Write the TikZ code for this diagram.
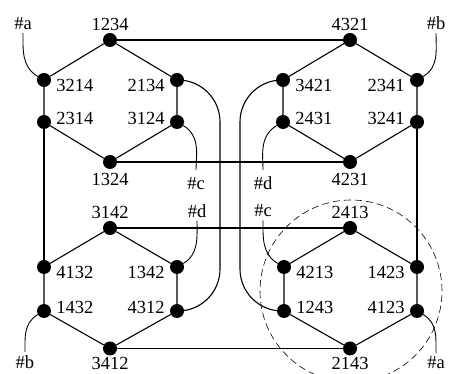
\documentclass[tikz,border=0pt]{standalone}
\usepackage{fontspec}
\setmainfont{Liberation Serif}

\begin{document}
\begin{tikzpicture}[x=1pt, y=1pt,
  perm/.style={circle, fill, inner sep=0pt, minimum size=14pt},
  lab/.style={font=\fontsize{18.5}{22}\selectfont, inner sep=1pt},
  tagT/.style={label={[lab, yshift=1pt]above:#1}},
  tagD/.style={label={[lab, yshift=-2.5pt]below:#1}},
  tagDb/.style={label={[lab]below:#1}},
  tagRl/.style={label={[lab, xshift=4pt, yshift=-5pt]right:#1}},
  tagRu/.style={label={[lab, xshift=4pt, yshift=4pt]right:#1}},
  tagLl/.style={label={[lab, xshift=-4pt, yshift=-5pt]left:#1}},
  tagLu/.style={label={[lab, xshift=-4pt, yshift=4pt]left:#1}},
  wire/.style={line width=1.1pt},
  stub/.style={line width=0.9pt, shorten >=3pt},
  ring/.style={line width=0.6pt, dash pattern=on 7pt off 4pt}
]
\useasboundingbox (0,0) rectangle (449,374);
\clip (0,0) rectangle (449,374);

% upper left hexagon
\node[perm, tagT=1234] (p1234) at (110,334) {};
\node[perm, tagRl=3214] (p3214) at (44,294) {};
\node[perm, tagLl=2134] (p2134) at (177,294) {};
\node[perm, tagRu=2314] (p2314) at (44,252) {};
\node[perm, tagLu=3124] (p3124) at (177,252) {};
\node[perm, tagD=1324] (p1324) at (110,212) {};
% upper right hexagon
\node[perm, tagT=4321] (p4321) at (350,334) {};
\node[perm, tagRl=3421] (p3421) at (283,294) {};
\node[perm, tagLl=2341] (p2341) at (417,294) {};
\node[perm, tagRu=2431] (p2431) at (283,252) {};
\node[perm, tagLu=3241] (p3241) at (417,252) {};
\node[perm, tagD=4231] (p4231) at (350,212) {};
% lower left hexagon
\node[perm, tagT=3142] (p3142) at (110,146) {};
\node[perm, tagRl=4132] (p4132) at (44,107) {};
\node[perm, tagLl=1342] (p1342) at (177,107) {};
\node[perm, tagRu=1432] (p1432) at (44,63) {};
\node[perm, tagLu=4312] (p4312) at (177,63) {};
\node[perm, tagDb=3412] (p3412) at (110,25.5) {};
% lower right hexagon
\node[perm, tagT=2413] (p2413) at (350,146) {};
\node[perm, tagRl=4213] (p4213) at (284,107) {};
\node[perm, tagLl=1423] (p1423) at (417,107) {};
\node[perm, tagRu=1243] (p1243) at (284,63) {};
\node[perm, tagLu=4123] (p4123) at (417,63) {};
\node[perm, tagDb=2143] (p2143) at (350,25.5) {};

\draw[wire] (p3214) -- (p1234) -- (p2134) -- (p3124) -- (p1324) -- (p2314) -- (p3214);
\draw[wire] (p3421) -- (p4321) -- (p2341) -- (p3241) -- (p4231) -- (p2431) -- (p3421);
\draw[wire] (p4132) -- (p3142) -- (p1342) -- (p4312) -- (p3412) -- (p1432) -- (p4132);
\draw[wire] (p4213) -- (p2413) -- (p1423) -- (p4123) -- (p2143) -- (p1243) -- (p4213);

% links between the hexagons
\draw[wire] (p1234) -- (p4321);
\draw[wire] (p1324) -- (p4231);
\draw[wire] (p3142) -- (p2413);
\draw[wire] (p3412) -- (p2143);
\draw[wire] (p2314) -- (p4132);
\draw[wire] (p3241) -- (p1423);
\coordinate (railL) at (220,180);
\coordinate (railR) at (240,180);
\draw[wire, rounded corners=42pt] (p2134.center) -| (railL) |- (p4312.center);
\draw[wire, rounded corners=42pt] (p3421.center) -| (railR) |- (p1243.center);

% loose ends
\node[lab] (ha1) at (23,350.5) {\#a};
\node[lab] (hb1) at (436,350.5) {\#b};
\node[lab] (hc1) at (196,190.5) {\#c};
\node[lab] (hd1) at (263,190.5) {\#d};
\node[lab] (hd2) at (197,163) {\#d};
\node[lab] (hc2) at (263,163) {\#c};
\node[lab] (hb2) at (25,11.5) {\#b};
\node[lab] (ha2) at (436,11.5) {\#a};
\draw[stub, shorten >=2pt] (p3214) to[out=150, in=-90] (ha1.south);
\draw[stub, shorten >=2pt] (p2341) to[out=30, in=-90] (hb1.south);
\draw[stub, shorten >=6pt] (p3124) to[out=-30, in=90] (hc1.north);
\draw[stub, shorten >=6pt] (p2431) to[out=210, in=90] (hd1.north);
\draw[stub, shorten >=2pt] (p1342) to[out=30, in=-90] (hd2.south);
\draw[stub, shorten >=2pt] (p4213) to[out=150, in=-90] (hc2.south);
\draw[stub, shorten >=3pt] (p1432) to[out=210, in=90] (hb2.north);
\draw[stub, shorten >=2pt] (p4123) to[out=-30, in=90] (ha2.north);

\draw[ring] (351,83) circle[radius=91];
\end{tikzpicture}
\end{document}
